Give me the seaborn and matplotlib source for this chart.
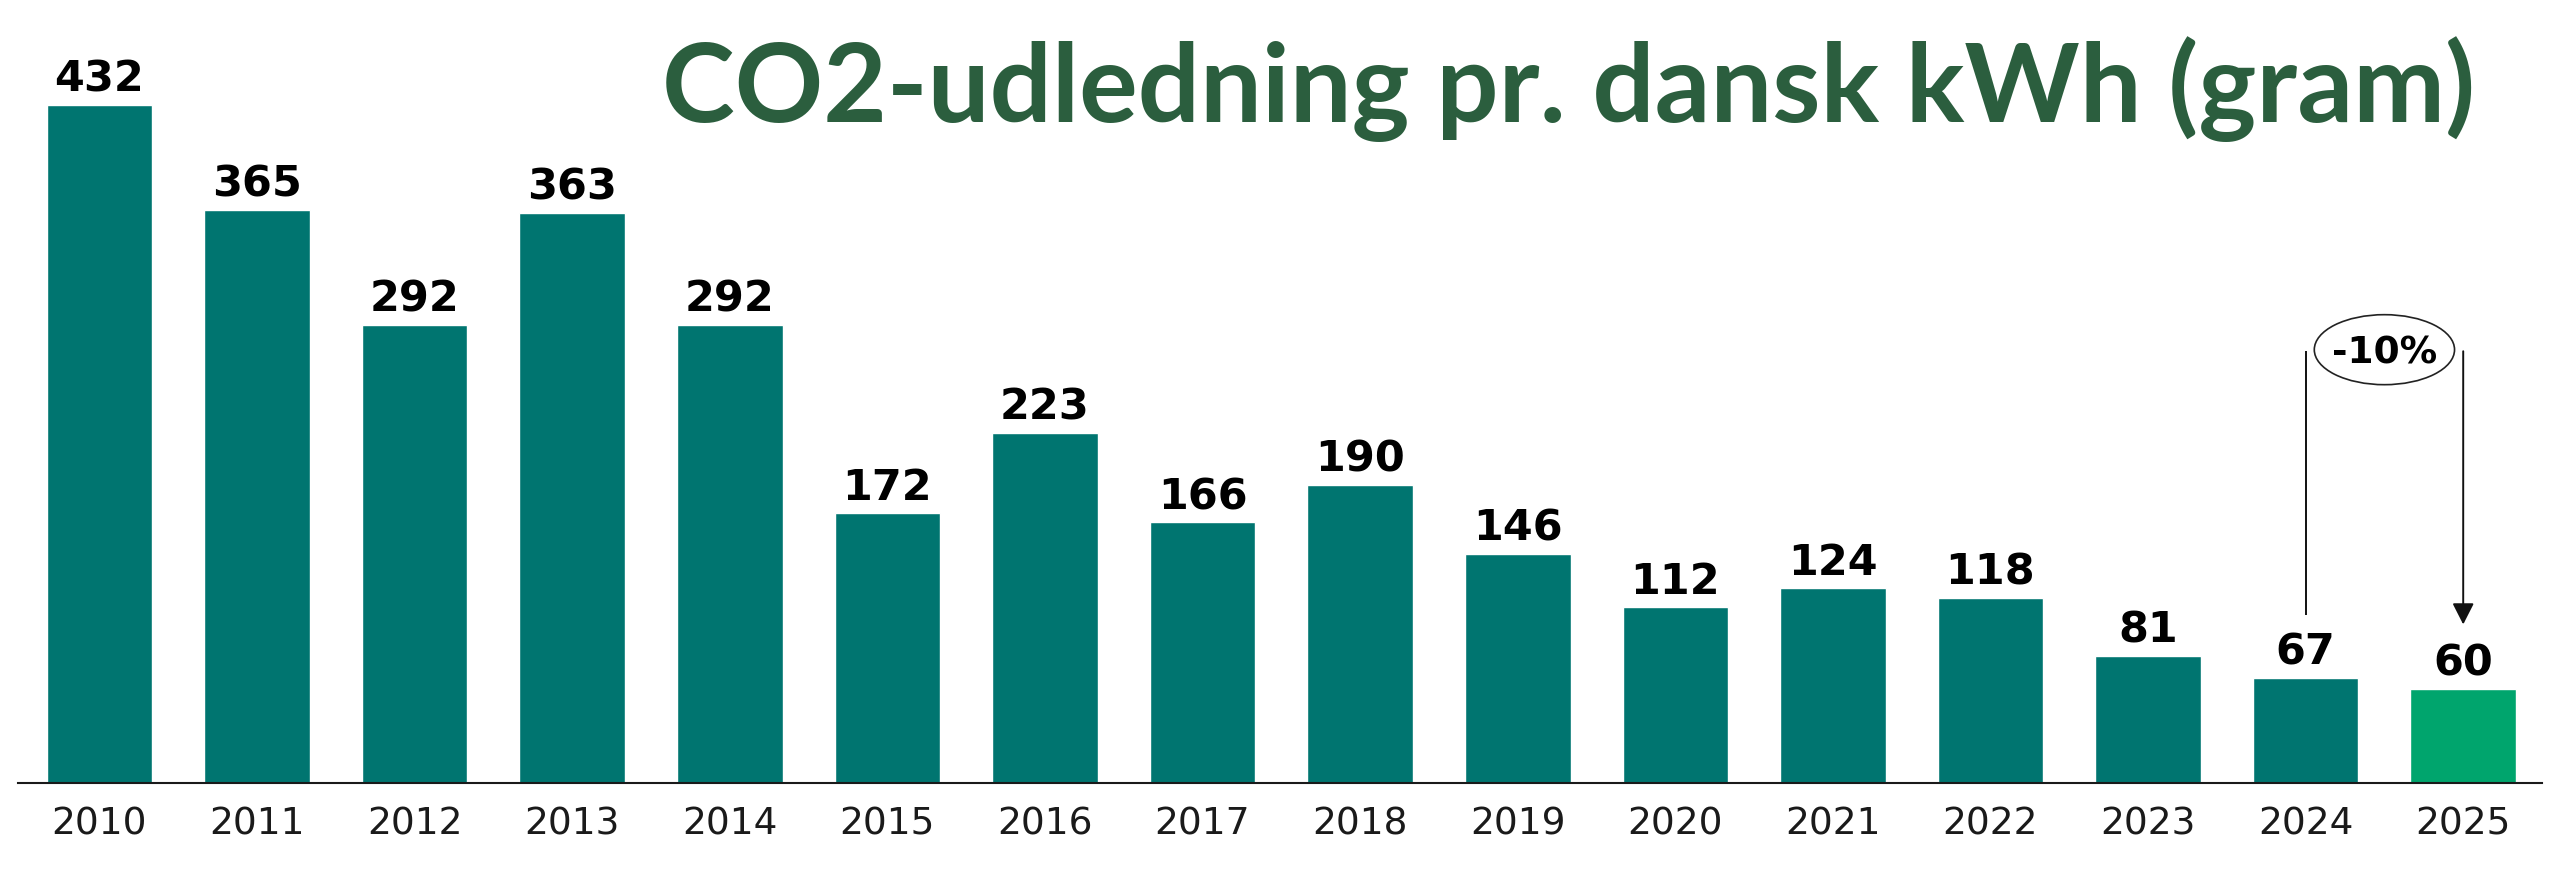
import matplotlib
matplotlib.use("Agg")
import matplotlib.pyplot as plt
from matplotlib.patches import Ellipse
import seaborn as sns
import pandas as pd

# ---- data ----
years = ["2010", "2011", "2012", "2013", "2014", "2015", "2016", "2017",
         "2018", "2019", "2020", "2021", "2022", "2023", "2024", "2025"]
values = [432, 365, 292, 363, 292, 172, 223, 166, 190, 146, 112, 124, 118, 81, 67, 60]
title = "CO2-udledning pr. dansk kWh (gram)"
change_label = "-10%"

TEAL = "#007570"
GREEN = "#00a56d"
TITLE_GREEN = "#2b5e3e"

df = pd.DataFrame({"year": years, "value": values})
palette = {y: (GREEN if y == years[-1] else TEAL) for y in years}

sns.set_theme(style="white")
plt.rcParams["font.family"] = ["DejaVu Sans"]

W, H = 2560, 874
fig = plt.figure(figsize=(W / 100, H / 100), dpi=100)
fig.patch.set_facecolor("white")

ax_left, ax_right = 18, 2542
baseline_px = 783
ymax = 450
px_per_unit = 1.57
ax_h_px = ymax * px_per_unit
ax = fig.add_axes([ax_left / W, (H - baseline_px) / H,
                   (ax_right - ax_left) / W, ax_h_px / H])

sns.barplot(data=df, x="year", y="value", hue="year", palette=palette,
            width=0.67, dodge=False, legend=False, saturation=1, ax=ax)

ax.set_xlim(-0.517, 15.5)
ax.set_ylim(0, ymax)
ax.set_xlabel("")
ax.set_ylabel("")
ax.set_yticks([])
for s in ["top", "right", "left"]:
    ax.spines[s].set_visible(False)
ax.spines["bottom"].set_color("#1a1a1a")
ax.spines["bottom"].set_linewidth(1.5)
ax.tick_params(axis="x", length=0, pad=17, labelsize=27, labelcolor="#1a1a1a")
ax.set_facecolor("white")

# value labels
for i, v in enumerate(values):
    ax.annotate(str(v), xy=(i, v), xytext=(0, 9.5), textcoords="offset points",
                ha="center", va="baseline", fontsize=31, fontweight="bold",
                color="black")

# change annotation between last two bars
i1, i2 = len(values) - 2, len(values) - 1
top_y = 275
ax.plot([i1, i1], [top_y, values[i1] + 40], color="#111111", lw=1.4,
        solid_capstyle="butt")
ax.annotate("", xy=(i2, values[i2] + 41), xytext=(i2, top_y),
            arrowprops=dict(arrowstyle="-|>,head_length=0.65,head_width=0.33",
                            mutation_scale=20, color="#111111", lw=1.4,
                            shrinkA=0, shrinkB=0))
ell = Ellipse(((i1 + i2) / 2, 276), width=0.89, height=70 / px_per_unit,
              facecolor="white", edgecolor="#222222", lw=1.2, zorder=5)
ax.add_patch(ell)
ax.text((i1 + i2) / 2, 276, change_label, ha="center", va="center_baseline",
        fontsize=27, fontweight="bold", color="black", zorder=6)

# title
fig.text(2475 / W, (H - 122) / H, title, ha="right", va="baseline",
         fontsize=79, fontweight="bold", color=TITLE_GREEN, family=["Lato", "DejaVu Sans"])

fig.savefig("out.png", dpi=100, facecolor="white")
